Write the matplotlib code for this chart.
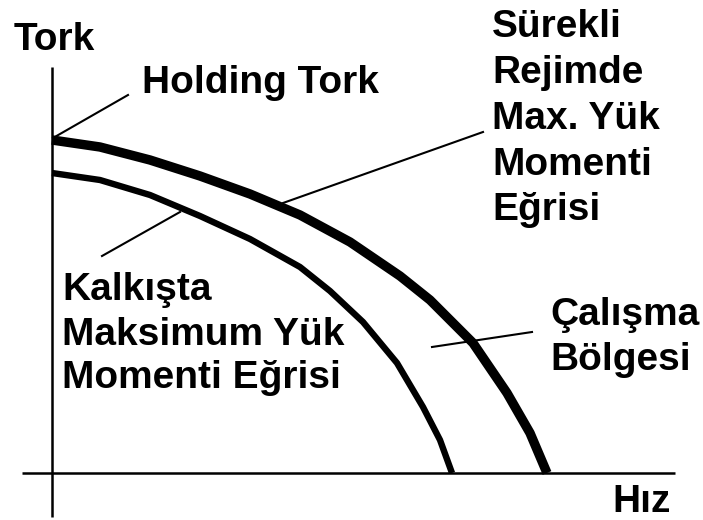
import matplotlib.pyplot as plt

# speed / torque (origin at the axes crossing, pixel-ish units)
outer_speed = [0, 48, 98, 148, 198, 248, 298, 348, 378, 421, 455, 478, 495]
outer_torque = [333, 326, 313, 297, 279, 258, 231, 197, 173, 130, 80, 40, 0]
inner_speed = [0, 48, 98, 148, 198, 248, 278, 311, 345, 371, 388, 400]
inner_torque = [300, 293, 278, 257, 234, 206, 182, 151, 110, 66, 33, 0]

# leader lines: (x0, y0, x1, y1)
leaders = [
    (1, 335, 76, 378),      # Holding Tork
    (231, 270, 431, 341),   # Sürekli rejimde
    (128, 261, 50, 217),    # Kalkışta
    (380, 126, 480, 141),   # Çalışma bölgesi
]

right_lines = ["Sürekli", "Rejimde", "Max. Yük", "Momenti", "Eğrisi"]
left_lines = ["Kalkışta", "Maksimum Yük", "Momenti Eğrisi"]
zone_lines = ["Çalışma", "Bölgesi"]

# text baselines (same units as the curves)
right_y = [436, 390, 344, 298, 253]
left_y = [173, 128, 85]
zone_y = [148, 103]

plt.rcParams['font.family'] = ['Liberation Sans', 'DejaVu Sans']

fig = plt.figure(figsize=(7.03, 5.2), dpi=100)
ax = fig.add_axes([0, 0, 1, 1])
ax.set_xlim(-52, 651)
ax.set_ylim(-47, 473)
ax.axis('off')

# axes
ax.plot([0, 0], [-44, 406], color='black', lw=1.8, solid_capstyle='butt')
ax.plot([-30, 623], [0, 0], color='black', lw=1.8, solid_capstyle='butt')

# curves
ax.plot(outer_speed, outer_torque, color='black', lw=6.8, solid_capstyle='butt',
        solid_joinstyle='round')
ax.plot(inner_speed, inner_torque, color='black', lw=4.6, solid_capstyle='butt',
        solid_joinstyle='round')

for x0, y0, x1, y1 in leaders:
    ax.plot([x0, x1], [y0, y1], color='black', lw=1.5)

fs = 28
kw = dict(fontsize=fs, fontweight='bold', ha='left', va='baseline')
ax.text(-38, 423, "Tork", **kw)
ax.text(90, 380, "Holding Tork", **kw)
ax.text(560, -39, "Hız", **kw)

for s, y in zip(right_lines, right_y):
    ax.text(440, y, s, **kw)
for s, y in zip(left_lines, left_y):
    ax.text(10, y, s, **kw)
for s, y in zip(zone_lines, zone_y):
    ax.text(498, y, s, **kw)

fig.savefig("out.png", dpi=100, facecolor='white')
